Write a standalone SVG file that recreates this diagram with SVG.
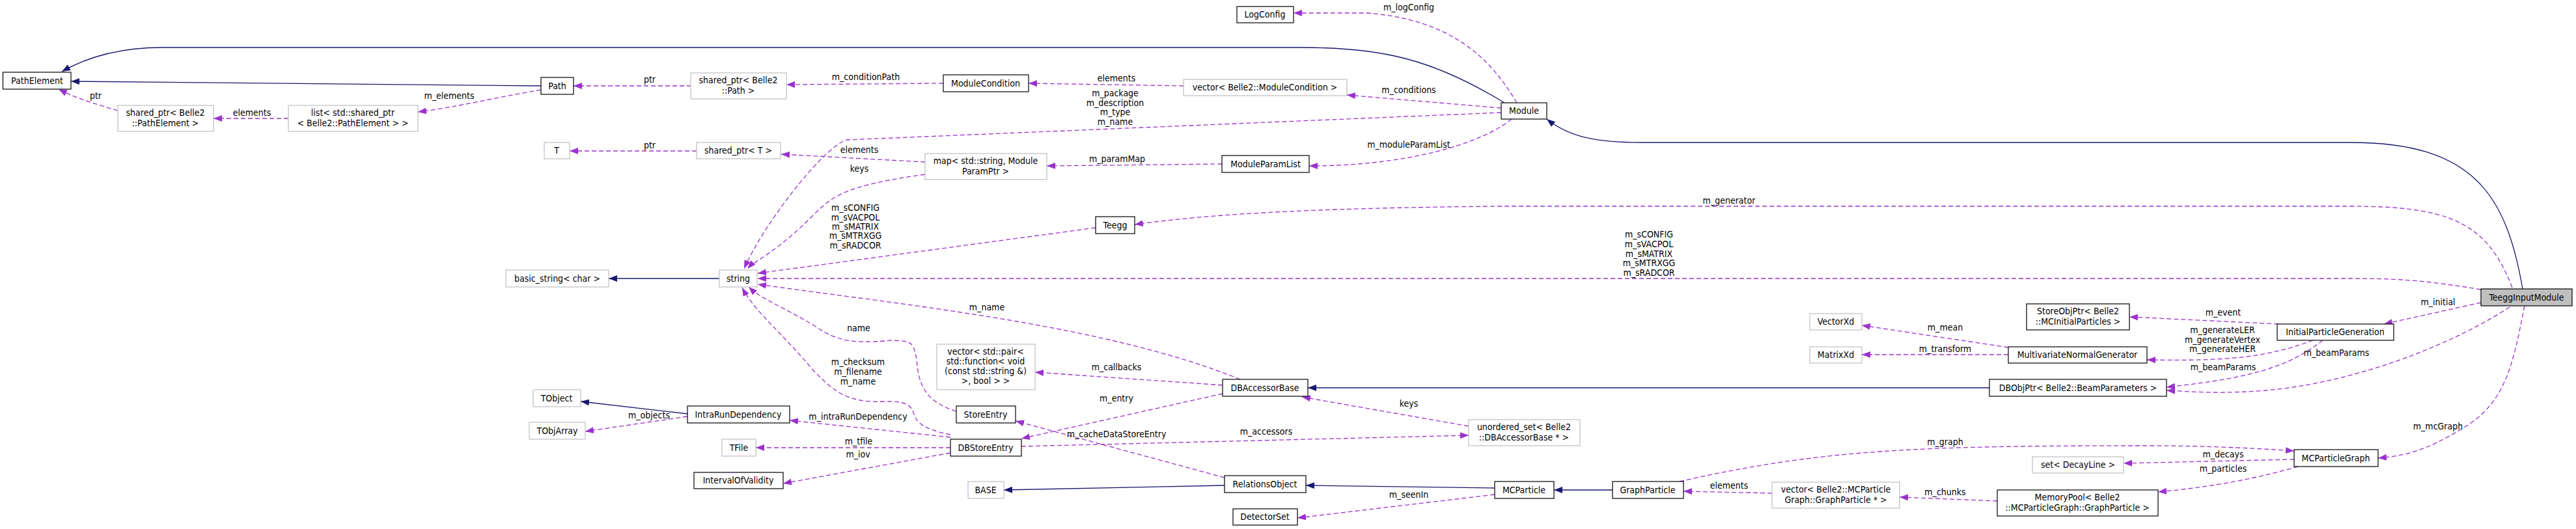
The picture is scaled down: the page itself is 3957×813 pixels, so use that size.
<svg xmlns="http://www.w3.org/2000/svg" width="3957" height="813" viewBox="0 0 3957 813">
<style>
text{font-family:"DejaVu Sans Condensed","DejaVu Sans",sans-serif;font-size:14px;fill:#000;text-anchor:middle}
.n rect{fill:#fff;stroke:#000;stroke-width:1.2}
.u rect{fill:#fff;stroke:#bfbfbf;stroke-width:1.2}
.g rect{fill:#bfbfbf;stroke:#000;stroke-width:1.2}
.i{fill:none;stroke:#191970;stroke-width:1.3;marker-end:url(#ab)}
.d{fill:none;stroke:#9a32cd;stroke-width:1.3;stroke-dasharray:7,4;marker-end:url(#ap)}
</style>
<defs>
<marker id="ab" markerUnits="userSpaceOnUse" markerWidth="14" markerHeight="10" refX="13" refY="5" orient="auto"><path d="M0,0L13,5L0,10z" fill="#191970"/></marker>
<marker id="ap" markerUnits="userSpaceOnUse" markerWidth="14" markerHeight="10" refX="13" refY="5" orient="auto"><path d="M0,0L13,5L0,10z" fill="#9a32cd"/></marker>
</defs>
<rect width="3957" height="813" fill="#fff"/>
<g id="edges">
<path class="i" d="M2311,158C2200,90 2120,73 2000,73L250,73C180,73 130,90 95,110"/>
<path class="i" d="M831,132L109,125"/>
<path class="d" d="M831,138C760,150 700,165 642,172"/>
<path class="d" d="M443,182L328,182"/>
<path class="d" d="M181,170C140,158 115,150 90,137"/>
<path class="d" d="M1062,132L881,132"/>
<path class="d" d="M1449,128L1208,130"/>
<path class="d" d="M1818,132L1580,128"/>
<path class="d" d="M2306,166L2069,146"/>
<path class="d" d="M2330,158C2290,90 2230,30 2100,20L1987,20"/>
<path class="d" d="M2322,183C2270,225 2150,255 2011,255"/>
<path class="d" d="M1877,252L1608,255"/>
<path class="d" d="M1421,249L1200,237"/>
<path class="d" d="M1070,232L875,232"/>
<path class="d" d="M2306,173L1300,215C1260,230 1170,350 1143,413"/>
<path class="d" d="M1421,268C1300,285 1280,300 1250,330C1190,390 1160,400 1148,413"/>
<path class="d" d="M1683,350L1164,420"/>
<path class="d" d="M3811,445C3720,430 3680,428 3611,428L1164,428"/>
<path class="d" d="M1905,583C1700,500 1400,470 1164,437"/>
<path class="d" d="M1469,632C1430,620 1415,600 1410,570C1405,520 1400,525 1370,523C1300,530 1280,520 1250,500C1200,470 1170,460 1150,441"/>
<path class="d" d="M1460,668C1420,660 1410,650 1405,640C1400,620 1390,617 1360,617C1300,620 1280,600 1250,570C1200,510 1160,480 1140,442"/>
<path class="i" d="M1105,428L935,428"/>
<path class="i" d="M1056,636L892,617"/>
<path class="d" d="M1056,640L899,663"/>
<path class="d" d="M1460,672L1213,646"/>
<path class="d" d="M1460,688L1161,688"/>
<path class="d" d="M1460,696L1203,743"/>
<path class="d" d="M1878,592L1590,572"/>
<path class="d" d="M1878,605L1569,674"/>
<path class="d" d="M1881,734L1560,647"/>
<path class="d" d="M1569,686L2256,669"/>
<path class="d" d="M2256,655L2000,610"/>
<path class="i" d="M3056,596L2009,596"/>
<path class="i" d="M1881,746L1542,753"/>
<path class="i" d="M2296,750L2006,746"/>
<path class="d" d="M2296,760L1993,796"/>
<path class="i" d="M2477,753L2387,753"/>
<path class="d" d="M2722,758L2586,755"/>
<path class="d" d="M3068,770L2918,764"/>
<path class="d" d="M3530,717C3450,740 3380,750 3315,756"/>
<path class="d" d="M3524,706L3262,712"/>
<path class="d" d="M2580,740C2800,690 2950,685 3300,685C3400,685 3480,690 3524,693"/>
<path class="d" d="M3878,470C3860,560 3850,620 3780,660C3730,690 3700,700 3653,704"/>
<path class="d" d="M3811,465L3662,498"/>
<path class="d" d="M3855,472C3750,540 3600,590 3480,600C3420,605 3380,603 3328,600"/>
<path class="d" d="M3568,523C3520,560 3470,580 3328,595"/>
<path class="d" d="M3553,523C3480,550 3420,555 3298,553"/>
<path class="d" d="M3500,498L3271,487"/>
<path class="d" d="M3085,534L2860,500"/>
<path class="d" d="M3085,545L2860,545"/>
<path class="d" d="M3859,442C3820,340 3760,317 3611,317L2300,317C2000,320 1850,330 1743,345"/>
<path class="i" d="M3875,444C3850,300 3800,219 3611,219L2522,219C2450,219 2410,210 2376,183"/>
</g>
<g id="labels">
<text x="147" y="152">ptr</text>
<text x="387" y="178">elements</text>
<text x="690" y="152">m_elements</text>
<text x="998" y="127">ptr</text>
<text x="998" y="228">ptr</text>
<text x="1330" y="123">m_conditionPath</text>
<text x="1715" y="125">elements</text>
<text x="1713" y="148">m_package</text>
<text x="1713" y="163">m_description</text>
<text x="1713" y="177">m_type</text>
<text x="1713" y="192">m_name</text>
<text x="2164" y="16">m_logConfig</text>
<text x="2164" y="143">m_conditions</text>
<text x="2164" y="227">m_moduleParamList</text>
<text x="1716" y="249">m_paramMap</text>
<text x="1320" y="235">elements</text>
<text x="1320" y="264">keys</text>
<text x="1314" y="324">m_sCONFIG</text>
<text x="1314" y="339">m_sVACPOL</text>
<text x="1314" y="353">m_sMATRIX</text>
<text x="1314" y="367">m_sMTRXGG</text>
<text x="1314" y="382">m_sRADCOR</text>
<text x="2656" y="313">m_generator</text>
<text x="2533" y="365">m_sCONFIG</text>
<text x="2533" y="380">m_sVACPOL</text>
<text x="2533" y="395">m_sMATRIX</text>
<text x="2533" y="409">m_sMTRXGG</text>
<text x="2533" y="424">m_sRADCOR</text>
<text x="1516" y="477">m_name</text>
<text x="1319" y="509">name</text>
<text x="1318" y="561">m_checksum</text>
<text x="1318" y="576">m_filename</text>
<text x="1318" y="591">m_name</text>
<text x="997" y="643">m_objects</text>
<text x="1318" y="645">m_intraRunDependency</text>
<text x="1319" y="683">m_tfile</text>
<text x="1318" y="703">m_iov</text>
<text x="1715" y="569">m_callbacks</text>
<text x="1715" y="617">m_entry</text>
<text x="1715" y="672">m_cacheDataStoreEntry</text>
<text x="1945" y="668">m_accessors</text>
<text x="2164" y="625">keys</text>
<text x="2164" y="765">m_seenIn</text>
<text x="2988" y="508">m_mean</text>
<text x="2988" y="541">m_transform</text>
<text x="2988" y="684">m_graph</text>
<text x="2656" y="751">elements</text>
<text x="2988" y="761">m_chunks</text>
<text x="3745" y="469">m_initial</text>
<text x="3415" y="485">m_event</text>
<text x="3414" y="512">m_generateLER</text>
<text x="3414" y="527">m_generateVertex</text>
<text x="3414" y="541">m_generateHER</text>
<text x="3589" y="547">m_beamParams</text>
<text x="3415" y="569">m_beamParams</text>
<text x="3745" y="660">m_mcGraph</text>
<text x="3415" y="703">m_decays</text>
<text x="3415" y="725">m_particles</text>
</g>
<g id="PathElement" class="n"><rect x="4.5" y="111" width="104.5" height="26"/><text x="57" y="129">PathElement</text></g>
<g id="sp_PathElement" class="u"><rect x="181" y="162" width="147" height="40"/><text x="254" y="178">shared_ptr&lt; Belle2</text><text x="254" y="194">::PathElement &gt;</text></g>
<g id="list_PE" class="u"><rect x="443" y="162" width="199" height="40"/><text x="542" y="178">list&lt; std::shared_ptr</text><text x="542" y="194">&lt; Belle2::PathElement &gt; &gt;</text></g>
<g id="Path" class="n"><rect x="831" y="119" width="50" height="26"/><text x="856" y="137">Path</text></g>
<g id="sp_Path" class="u"><rect x="1061" y="112" width="147" height="40"/><text x="1134" y="128">shared_ptr&lt; Belle2</text><text x="1134" y="144">::Path &gt;</text></g>
<g id="T" class="u"><rect x="836" y="219" width="39" height="25"/><text x="855" y="236">T</text></g>
<g id="sp_T" class="u"><rect x="1070" y="219" width="129" height="25"/><text x="1134" y="236">shared_ptr&lt; T &gt;</text></g>
<g id="ModuleCondition" class="n"><rect x="1449" y="115" width="131" height="26"/><text x="1514" y="133">ModuleCondition</text></g>
<g id="LogConfig" class="n"><rect x="1900" y="10" width="87" height="25"/><text x="1943" y="27">LogConfig</text></g>
<g id="vec_MC" class="u"><rect x="1818" y="122" width="251" height="25"/><text x="1943" y="139">vector&lt; Belle2::ModuleCondition &gt;</text></g>
<g id="Module" class="n"><rect x="2306" y="158" width="70" height="25"/><text x="2341" y="175">Module</text></g>
<g id="map" class="u"><rect x="1421" y="236" width="187" height="40"/><text x="1514" y="252">map&lt; std::string, Module</text><text x="1514" y="268">ParamPtr &gt;</text></g>
<g id="ModuleParamList" class="n"><rect x="1877" y="239" width="134" height="26"/><text x="1944" y="257">ModuleParamList</text></g>
<g id="Teegg" class="n"><rect x="1683" y="333" width="60" height="26"/><text x="1713" y="351">Teegg</text></g>
<g id="basic_string" class="u"><rect x="777" y="415" width="158" height="26"/><text x="856" y="433">basic_string&lt; char &gt;</text></g>
<g id="string" class="u"><rect x="1105" y="415" width="58" height="26"/><text x="1134" y="433">string</text></g>
<g id="TObject" class="u"><rect x="819" y="599" width="73" height="26"/><text x="855" y="617">TObject</text></g>
<g id="TObjArray" class="u"><rect x="813" y="649" width="86" height="26"/><text x="856" y="667">TObjArray</text></g>
<g id="IntraRunDependency" class="n"><rect x="1056" y="624" width="157" height="26"/><text x="1134" y="642">IntraRunDependency</text></g>
<g id="TFile" class="u"><rect x="1109" y="675" width="52" height="26"/><text x="1135" y="693">TFile</text></g>
<g id="IntervalOfValidity" class="n"><rect x="1066" y="726" width="137" height="25"/><text x="1134" y="743">IntervalOfValidity</text></g>
<g id="vec_callbacks" class="u"><rect x="1439" y="529" width="151" height="70"/><text x="1514" y="545">vector&lt; std::pair&lt;</text><text x="1514" y="560">std::function&lt; void</text><text x="1514" y="575">(const std::string &amp;)</text><text x="1514" y="590">&gt;, bool &gt; &gt;</text></g>
<g id="StoreEntry" class="n"><rect x="1469" y="624" width="91" height="26"/><text x="1514" y="642">StoreEntry</text></g>
<g id="DBStoreEntry" class="n"><rect x="1460" y="675" width="109" height="26"/><text x="1514" y="693">DBStoreEntry</text></g>
<g id="DBAccessorBase" class="n"><rect x="1878" y="583" width="131" height="26"/><text x="1943" y="601">DBAccessorBase</text></g>
<g id="BASE" class="u"><rect x="1487" y="740" width="55" height="26"/><text x="1514" y="758">BASE</text></g>
<g id="RelationsObject" class="n"><rect x="1881" y="731" width="125" height="26"/><text x="1943" y="749">RelationsObject</text></g>
<g id="DetectorSet" class="n"><rect x="1894" y="782" width="99" height="25"/><text x="1943" y="799">DetectorSet</text></g>
<g id="unordered_set" class="u"><rect x="2256" y="645" width="171" height="40"/><text x="2341" y="661">unordered_set&lt; Belle2</text><text x="2341" y="677">::DBAccessorBase * &gt;</text></g>
<g id="MCParticle" class="n"><rect x="2296" y="740" width="91" height="26"/><text x="2341" y="758">MCParticle</text></g>
<g id="GraphParticle" class="n"><rect x="2477" y="740" width="109" height="26"/><text x="2531" y="758">GraphParticle</text></g>
<g id="vec_GP" class="u"><rect x="2722" y="741" width="196" height="40"/><text x="2820" y="757">vector&lt; Belle2::MCParticle</text><text x="2820" y="773">Graph::GraphParticle * &gt;</text></g>
<g id="VectorXd" class="u"><rect x="2780" y="482" width="80" height="25"/><text x="2820" y="499">VectorXd</text></g>
<g id="MatrixXd" class="u"><rect x="2780" y="533" width="80" height="25"/><text x="2820" y="550">MatrixXd</text></g>
<g id="MNG" class="n"><rect x="3085" y="533" width="213" height="25"/><text x="3191" y="550">MultivariateNormalGenerator</text></g>
<g id="DBObjPtr" class="n"><rect x="3056" y="583" width="272" height="26"/><text x="3192" y="601">DBObjPtr&lt; Belle2::BeamParameters &gt;</text></g>
<g id="MemoryPool" class="n"><rect x="3068" y="753" width="247" height="40"/><text x="3191" y="769">MemoryPool&lt; Belle2</text><text x="3191" y="785">::MCParticleGraph::GraphParticle &gt;</text></g>
<g id="StoreObjPtr" class="n"><rect x="3113" y="467" width="158" height="40"/><text x="3192" y="483">StoreObjPtr&lt; Belle2</text><text x="3192" y="499">::MCInitialParticles &gt;</text></g>
<g id="InitialParticleGeneration" class="n"><rect x="3498" y="498" width="179" height="25"/><text x="3587" y="515">InitialParticleGeneration</text></g>
<g id="MCParticleGraph" class="n"><rect x="3524" y="691" width="129" height="26"/><text x="3588" y="709">MCParticleGraph</text></g>
<g id="set_DecayLine" class="u"><rect x="3122" y="702" width="140" height="25"/><text x="3192" y="719">set&lt; DecayLine &gt;</text></g>
<g id="TeeggInputModule" class="g"><rect x="3811" y="444" width="140" height="26"/><text x="3881" y="462">TeeggInputModule</text></g>
</svg>
